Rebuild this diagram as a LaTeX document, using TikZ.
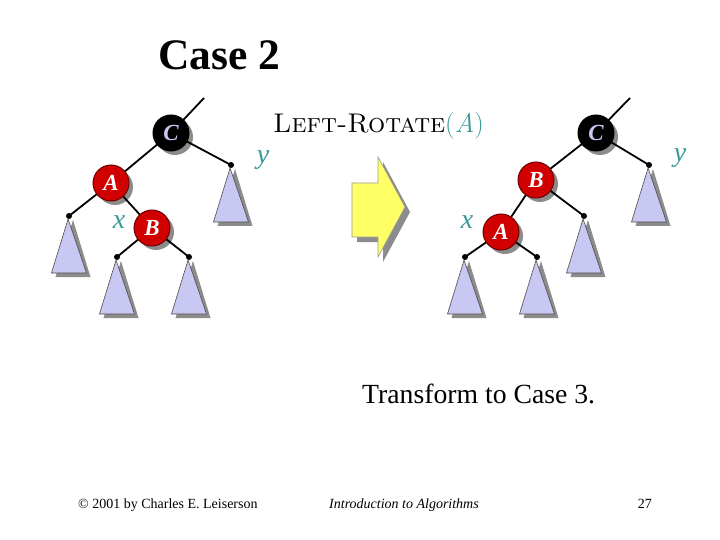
\documentclass[tikz,border=0pt]{standalone}
\usepackage{fontspec}
\newfontfamily\timesf{Liberation Serif}
\usetikzlibrary{calc}
\pgfdeclarelayer{background}
\pgfsetlayers{background,main}
\definecolor{rbred}{HTML}{D00000}
\definecolor{rbedge}{HTML}{700000}
\definecolor{lab}{HTML}{3A9A9A}
\definecolor{lav}{HTML}{C8C8F2}
\definecolor{shd}{HTML}{8C8C8C}
\definecolor{arry}{HTML}{FFFF66}
\tikzset{
  rbnode/.style={circle, minimum size=36pt, inner sep=0pt, line width=1pt,
     font=\timesf\bfseries\itshape\fontsize{23}{23}\selectfont},
  rednode/.style={rbnode, fill=rbred, draw=rbedge, text=white},
  blacknode/.style={rbnode, fill=black, draw=black, text=lav},
  nshadow/.style={circle, minimum size=36pt, inner sep=0pt, fill=shd},
  dot/.style={circle, fill=black, minimum size=6pt, inner sep=0pt},
  edge/.style={line width=1.8pt, black},
  varlab/.style={text=lab, font=\timesf\itshape\fontsize{28}{28}\selectfont},
}
\newcommand{\subtree}[1]{%
  \fill[shd] ($(#1)+(4,4)$) -- ++(-17.5,57) -- ++(35,0) -- cycle;
  \filldraw[fill=lav, draw=black!70, line width=0.6pt] (#1) -- ++(-17.5,57) -- ++(35,0) -- cycle;}
\begin{document}
\begin{tikzpicture}[x=1pt,y=-1pt]
\useasboundingbox (0,0) rectangle (720,540);

% Title
\node[anchor=base west, inner sep=0pt, font=\timesf\bfseries\fontsize{43.5}{44}\selectfont] (title) at (158,70) {Case 2};

% ---------- left tree ----------
\coordinate (Ltop) at (204,98);
\node[dot] (Ly) at (231,165) {};
\node[dot] (Lal) at (69,216) {};
\node[dot] (Lbl) at (117,257) {};
\node[dot] (Lbr) at (189,257) {};
\node[blacknode] (LC) at (171,133) {C};
\node[rednode] (LA) at (111,183) {A};
\node[rednode] (LB) at (152,228) {B};
\begin{pgfonlayer}{background}
\fill[white] (0,0) rectangle (720,540);
\subtree{Ly}\subtree{Lal}\subtree{Lbl}\subtree{Lbr}
\node[nshadow] at ($(LC)+(4,4)$) {};
\node[nshadow] at ($(LA)+(4,4)$) {};
\node[nshadow] at ($(LB)+(4,4)$) {};
\draw[edge] (LC.center) -- (Ltop);
\draw[edge] (LC.center) -- (LA.center);
\draw[edge] (LC.center) -- (Ly.center);
\draw[edge] (LA.center) -- (Lal.center);
\draw[edge] (LA.center) -- (LB.center);
\draw[edge] (LB.center) -- (Lbl.center);
\draw[edge] (LB.center) -- (Lbr.center);
\end{pgfonlayer}
\node[varlab] (Lylab) at (263,160) {y};
\node[varlab] (Lxlab) at (119,222) {x};

% ---------- operation label ----------
\node[anchor=base west, inner sep=0pt, text=black, font=\fontsize{27}{30}\selectfont] (op) at (273,133)
  {\textsc{Left-Rotate}\textcolor{lab}{(\textit{A})}};

% ---------- block arrow ----------
\fill[shd] (357,188) -- (383,188) -- (383,162) -- (410,212) -- (383,262) -- (383,242) -- (357,242) -- cycle;
\filldraw[fill=arry, draw=black!40, line width=0.6pt] (352,183) -- (378,183) -- (378,157) -- (405,207) -- (378,257) -- (378,237) -- (352,237) -- cycle;

% ---------- right tree ----------
\coordinate (Rtop) at (630,98);
\node[dot] (Ry) at (649,165) {};
\node[dot] (Rbr) at (584,216) {};
\node[dot] (Ral) at (465,257) {};
\node[dot] (Rar) at (537,257) {};
\node[blacknode] (RC) at (596,133) {C};
\node[rednode] (RB) at (536,180) {B};
\node[rednode] (RA) at (501,232) {A};
\begin{pgfonlayer}{background}
\subtree{Ry}\subtree{Rbr}\subtree{Ral}\subtree{Rar}
\node[nshadow] at ($(RC)+(4,4)$) {};
\node[nshadow] at ($(RB)+(4,4)$) {};
\node[nshadow] at ($(RA)+(4,4)$) {};
\draw[edge] (RC.center) -- (Rtop);
\draw[edge] (RC.center) -- (RB.center);
\draw[edge] (RC.center) -- (Ry.center);
\draw[edge] (RB.center) -- (RA.center);
\draw[edge] (RB.center) -- (Rbr.center);
\draw[edge] (RA.center) -- (Ral.center);
\draw[edge] (RA.center) -- (Rar.center);
\end{pgfonlayer}
\node[varlab] (Rylab) at (680,158) {y};
\node[varlab] (Rxlab) at (467,222) {x};

% ---------- caption ----------
\node[anchor=base west, inner sep=0pt, font=\timesf\fontsize{27.7}{28}\selectfont] (cap) at (362,403) {Transform to Case 3.};

% ---------- footer ----------
\node[anchor=base west, inner sep=0pt, font=\timesf\fontsize{14}{14}\selectfont] (f1) at (78,508) {© 2001 by Charles E. Leiserson};
\node[anchor=base west, inner sep=0pt, font=\timesf\itshape\fontsize{14}{14}\selectfont] (f2) at (329,508) {Introduction to Algorithms};
\node[anchor=base east, inner sep=0pt, font=\timesf\fontsize{14}{14}\selectfont] (f3) at (652,508) {27};
\end{tikzpicture}
\end{document}
